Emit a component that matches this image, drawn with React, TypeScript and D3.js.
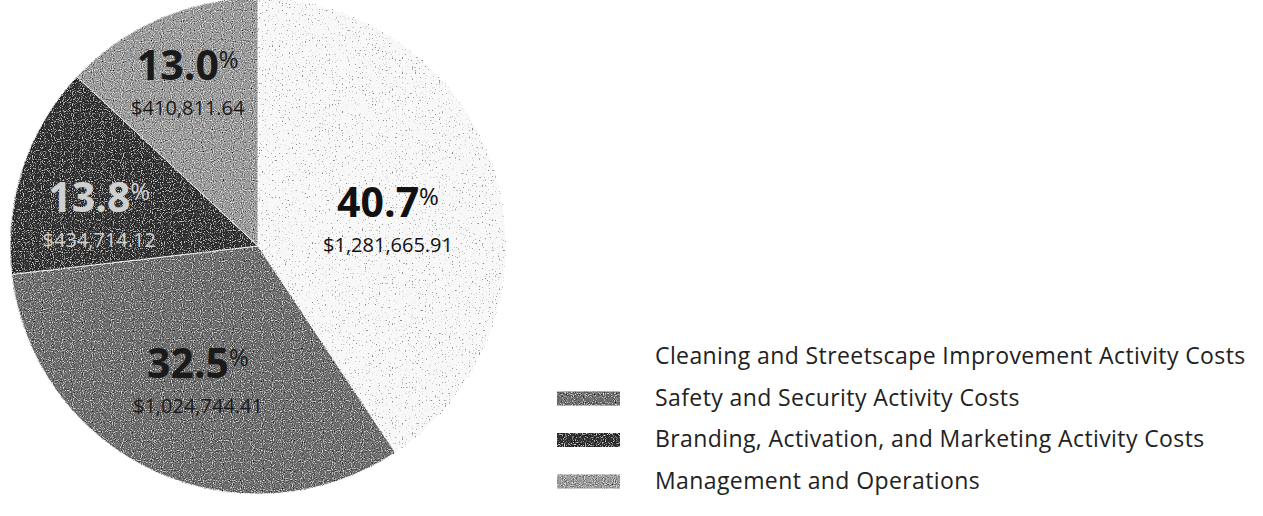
import React from "react";
import * as d3 from "d3";

// ---- Data ----
const categories: string[] = [
  "Cleaning and Streetscape Improvement Activity Costs",
  "Safety and Security Activity Costs",
  "Branding, Activation, and Marketing Activity Costs",
  "Management and Operations",
];
const amounts: number[] = [1281665.91, 1024744.41, 434714.12, 410811.64];

// ---- Style / layout ----
const W = 1263;
const H = 516;
const fills = ["#f8f8f8", "#727272", "#343434", "#a2a2a2"];
const labelColors = ["#111111", "#1a1a1a", "#cfcfcf", "#1a1a1a"];
// label placement: distance from centre (fraction of radius) and angular nudge (degrees)
const labelRadiusFactor = [0.535, 0.595, 0.652, 0.717];
const labelAngleNudge = [5.3, -0.9, -7.3, 0.2];
const FONT = "'Open Sans', Lato, sans-serif";

export default function App() {
  const cx = 258;
  const cy = 246;
  const r = 248;
  const total = d3.sum(amounts);
  const pie = d3
    .pie<number>()
    .sort(null)
    .value((d) => d);
  const arcs = pie(amounts);
  const arcGen = d3.arc<d3.PieArcDatum<number>>().innerRadius(0).outerRadius(r);
  const pctFmt = (v: number) => ((v / total) * 100).toFixed(1);
  const moneyFmt = d3.format("$,.2f");

  const legendX = 557;
  const legendTextX = 655;
  const legendY0 = 364;
  const legendStep = 41.5;

  return (
    <svg
      width={W}
      height={H}
      style={{ position: "absolute", left: 0, top: 0, background: "#ffffff" }}
    >
      <defs>
        <filter id="grain" x="0" y="0" width="100%" height="100%">
          <feTurbulence type="fractalNoise" baseFrequency="0.9" numOctaves="1" seed="4" result="noise" />
          <feColorMatrix
            in="noise"
            type="matrix"
            values="0 0 0 0 0  0 0 0 0 0  0 0 0 0 0  3.2 0 0 0 -1.55"
            result="dark"
          />
          <feColorMatrix
            in="noise"
            type="matrix"
            values="0 0 0 0 1  0 0 0 0 1  0 0 0 0 1  -3.2 0 0 0 1.45"
            result="light"
          />
          <feComposite in="dark" in2="SourceGraphic" operator="in" result="darkIn" />
          <feComposite in="light" in2="SourceGraphic" operator="in" result="lightIn" />
          <feMerge>
            <feMergeNode in="SourceGraphic" />
            <feMergeNode in="darkIn" />
            <feMergeNode in="lightIn" />
          </feMerge>
        </filter>
        <filter id="dots" x="0" y="0" width="100%" height="100%">
          <feTurbulence type="fractalNoise" baseFrequency="0.7" numOctaves="1" seed="9" result="noise" />
          <feColorMatrix
            in="noise"
            type="matrix"
            values="0 0 0 0 0.25  0 0 0 0 0.25  0 0 0 0 0.25  9 0 0 0 -5.7"
            result="dark"
          />
          <feComposite in="dark" in2="SourceGraphic" operator="in" result="darkIn" />
          <feMerge>
            <feMergeNode in="SourceGraphic" />
            <feMergeNode in="darkIn" />
          </feMerge>
        </filter>
      </defs>
      <g transform={`translate(${cx},${cy})`}>
        {arcs.map((a, i) => (
          <path
            key={i}
            d={arcGen(a) || ""}
            fill={fills[i]}
            stroke="#ffffff"
            strokeWidth={1}
            filter={i === 0 ? "url(#dots)" : "url(#grain)"}
          />
        ))}
        {arcs.map((a, i) => {
          const mid = (a.startAngle + a.endAngle) / 2 + (labelAngleNudge[i] * Math.PI) / 180;
          const rr = r * labelRadiusFactor[i];
          const x = Math.sin(mid) * rr;
          const y = -Math.cos(mid) * rr;
          return (
            <g key={"l" + i} transform={`translate(${x},${y})`} fill={labelColors[i]}>
              <text
                x={0}
                y={-3}
                textAnchor="middle"
                fontFamily={FONT}
                fontWeight={700}
                fontSize={41}
              >
                {pctFmt(amounts[i])}
                <tspan fontSize={24} fontWeight={400} dy={-12}>
                  %
                </tspan>
              </text>
              <text
                x={0}
                y={32}
                textAnchor="middle"
                fontFamily={FONT}
                fontSize={20}
              >
                {moneyFmt(amounts[i])}
              </text>
            </g>
          );
        })}
      </g>
      <g>
        {categories.map((c, i) => {
          const by = legendY0 + i * legendStep;
          return (
            <g key={"lg" + i}>
              <rect
                x={legendX}
                y={by - 14}
                width={63}
                height={14}
                fill={i === 0 ? "#ffffff" : fills[i]}
                filter={i === 0 ? undefined : "url(#grain)"}
              />
              <text
                x={legendTextX}
                y={by}
                fontFamily={FONT}
                fontSize={23}
                letterSpacing={0.4}
                fill="#222222"
              >
                {c}
              </text>
            </g>
          );
        })}
      </g>
    </svg>
  );
}
